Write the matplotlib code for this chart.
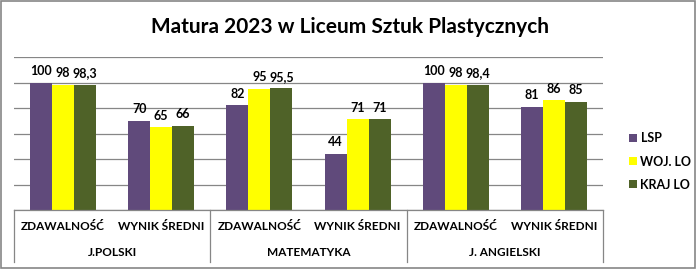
import matplotlib
matplotlib.use("Agg")
import matplotlib.pyplot as plt
import matplotlib.transforms as mtransforms
from matplotlib.patches import Rectangle
import numpy as np

plt.rcParams['font.family'] = ['Lato', 'DejaVu Sans']

title = "Matura 2023 w Liceum Sztuk Plastycznych"
subjects = ["J.POLSKI", "MATEMATYKA", "J. ANGIELSKI"]
categories = ["ZDAWALNOŚĆ", "WYNIK ŚREDNI"] * 3
series_names = ["LSP", "WOJ. LO", "KRAJ LO"]
lsp = [100, 70, 82, 44, 100, 81]
woj = [98, 65, 95, 71, 98, 86]
kraj = [98.3, 66, 95.5, 71, 98.4, 85]
lsp_labels = ["100", "70", "82", "44", "100", "81"]
woj_labels = ["98", "65", "95", "71", "98", "86"]
kraj_labels = ["98,3", "66", "95,5", "71", "98,4", "85"]

colors = ["#604A7B", "#FFFF00", "#4F6228"]
grid_c = "#868686"

W, H = 696, 269
fig = plt.figure(figsize=(W / 100, H / 100), dpi=100)
left, right, top, bottom = 14, 603, 57, 210
ax = fig.add_axes([left / W, 1 - bottom / H, (right - left) / W, (bottom - top) / H])

x = np.arange(len(categories))
bw = 0.224
all_vals = [lsp, woj, kraj]
all_labels = [lsp_labels, woj_labels, kraj_labels]
for i, (vals, labs, name) in enumerate(zip(all_vals, all_labels, series_names)):
    pos = x + (i - 1) * bw
    ax.bar(pos, vals, width=bw, color=colors[i], label=name, zorder=2)
    for p, v, t in zip(pos, vals, labs):
        ax.annotate(t, (p, v), xytext=(0, 4), textcoords="offset points",
                    ha="center", va="bottom", fontsize=9, fontweight="bold",
                    color="#000000", zorder=3)

ax.set_xlim(-0.5, len(categories) - 0.5)
ax.set_ylim(0, 120)
ax.set_yticks(np.arange(0, 121, 20))
ax.yaxis.grid(True, color=grid_c, linewidth=0.9, zorder=0)
ax.set_axisbelow(True)
ax.tick_params(left=False, bottom=False, labelleft=False, labelbottom=False)
for s in ["left", "right", "top"]:
    ax.spines[s].set_visible(False)
ax.spines["bottom"].set_color(grid_c)
ax.spines["bottom"].set_linewidth(0.9)

trans = mtransforms.blended_transform_factory(ax.transData, ax.transAxes)
row1 = -(227 - bottom) / (bottom - top)
row2 = -(253 - bottom) / (bottom - top)
sep_bot = -(262 - bottom) / (bottom - top)
for xi, c in zip(x, categories):
    ax.text(xi, row1, c, transform=trans, ha="center", va="center",
            fontsize=8.5, fontweight="bold", color="#000000")
for gi, s in enumerate(subjects):
    ax.text(2 * gi + 0.5, row2, s, transform=trans, ha="center", va="center",
            fontsize=8.5, fontweight="bold", color="#000000")
for sx in [-0.5, 1.5, 3.5, 5.5]:
    ax.plot([sx, sx], [0, sep_bot], transform=trans, color=grid_c,
            linewidth=0.9, clip_on=False)

fig.text(350 / W, 1 - 27 / H, title, ha="center", va="center",
         fontsize=15, fontweight="bold", color="#000000")

leg = fig.legend(loc="upper left", bbox_to_anchor=(618 / W, 1 - 121 / H),
                 frameon=False, handlelength=0.6, handleheight=0.6,
                 handletextpad=0.3, labelspacing=0.9, prop={'weight': 'bold', 'size': 9})

fig.patches.append(Rectangle((1 / W, 1 / H), (W - 2) / W, (H - 2) / H,
                             transform=fig.transFigure, fill=False,
                             edgecolor=grid_c, linewidth=1.2))

fig.savefig("out.png", dpi=100)
